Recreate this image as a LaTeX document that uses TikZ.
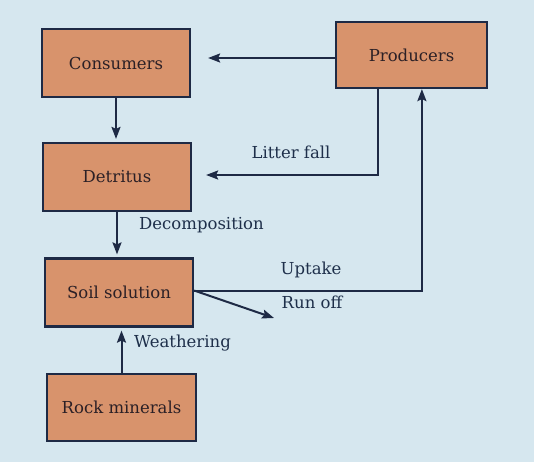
\documentclass[tikz,border=0pt]{standalone}
\usepackage{fontspec}
\setmainfont{DejaVu Serif}
\usetikzlibrary{arrows.meta,calc}
\definecolor{bg}{HTML}{D6E7EF}
\definecolor{boxfill}{HTML}{D8936C}
\definecolor{edge}{HTML}{1E2A45}
\definecolor{boxtext}{HTML}{2B2026}
\definecolor{labtext}{HTML}{1E2F4A}
\begin{document}
\begin{tikzpicture}[x=1pt,y=-1pt,
  box/.style={draw=edge,line width=2.2pt,fill=boxfill,minimum width=148pt,minimum height=68pt,
    inner sep=0pt,text=boxtext,font=\fontsize{16.5}{19}\selectfont},
  flow/.style={draw=edge,line width=2pt,-{Stealth[length=12pt,width=9pt,inset=2pt]}},
  lab/.style={text=labtext,font=\fontsize{16.5}{19}\selectfont,inner sep=0pt}]
\fill[bg] (0,0) rectangle (534,462);
\useasboundingbox (0,0) rectangle (534,462);
\node[box] (cons) at (116,63) {Consumers};
\node[box,minimum width=151pt,minimum height=66pt] (prod) at (411.5,55) {Producers};
\node[box] (det) at (117,177) {Detritus};
\node[box] (soil) at (119,292.5) {Soil solution};
\node[box,minimum width=149pt,minimum height=67pt] (rock) at (121.5,407.5) {Rock minerals};
\coordinate (runoff) at (274,318);
% arrows
\draw[flow] ($(prod.west)+(0,3)$) -- ($(prod.west -| cons.east)+(17,3)$);
\draw[flow] (cons.south) -- ($(cons.south |- det.north)+(0,-3)$);
\draw[flow] ($(prod.south west)+(43,0)$) |- ($(det.east)+(14,-2)$);
\draw[flow] (det.south) -- ($(det.south |- soil.north)+(0,-3)$);
\draw[flow] ($(soil.east)+(0,-2)$) -| ($(prod.south west)+(87,0)$);
\draw[flow] ($(soil.east)+(0,-2)$) -- (runoff);
\draw[flow] (rock.north) -- ($(rock.north |- soil.south)+(0,3)$);
% labels
\node[lab] (lf) at (291,152) {Litter fall};
\node[lab,anchor=west] (dc) at (139,225) {Decomposition};
\node[lab] (up) at (311,270) {Uptake};
\node[lab] (ro) at (312,302) {Run off};
\node[lab,anchor=west] (we) at (134,343) {Weathering};
\end{tikzpicture}
\end{document}
